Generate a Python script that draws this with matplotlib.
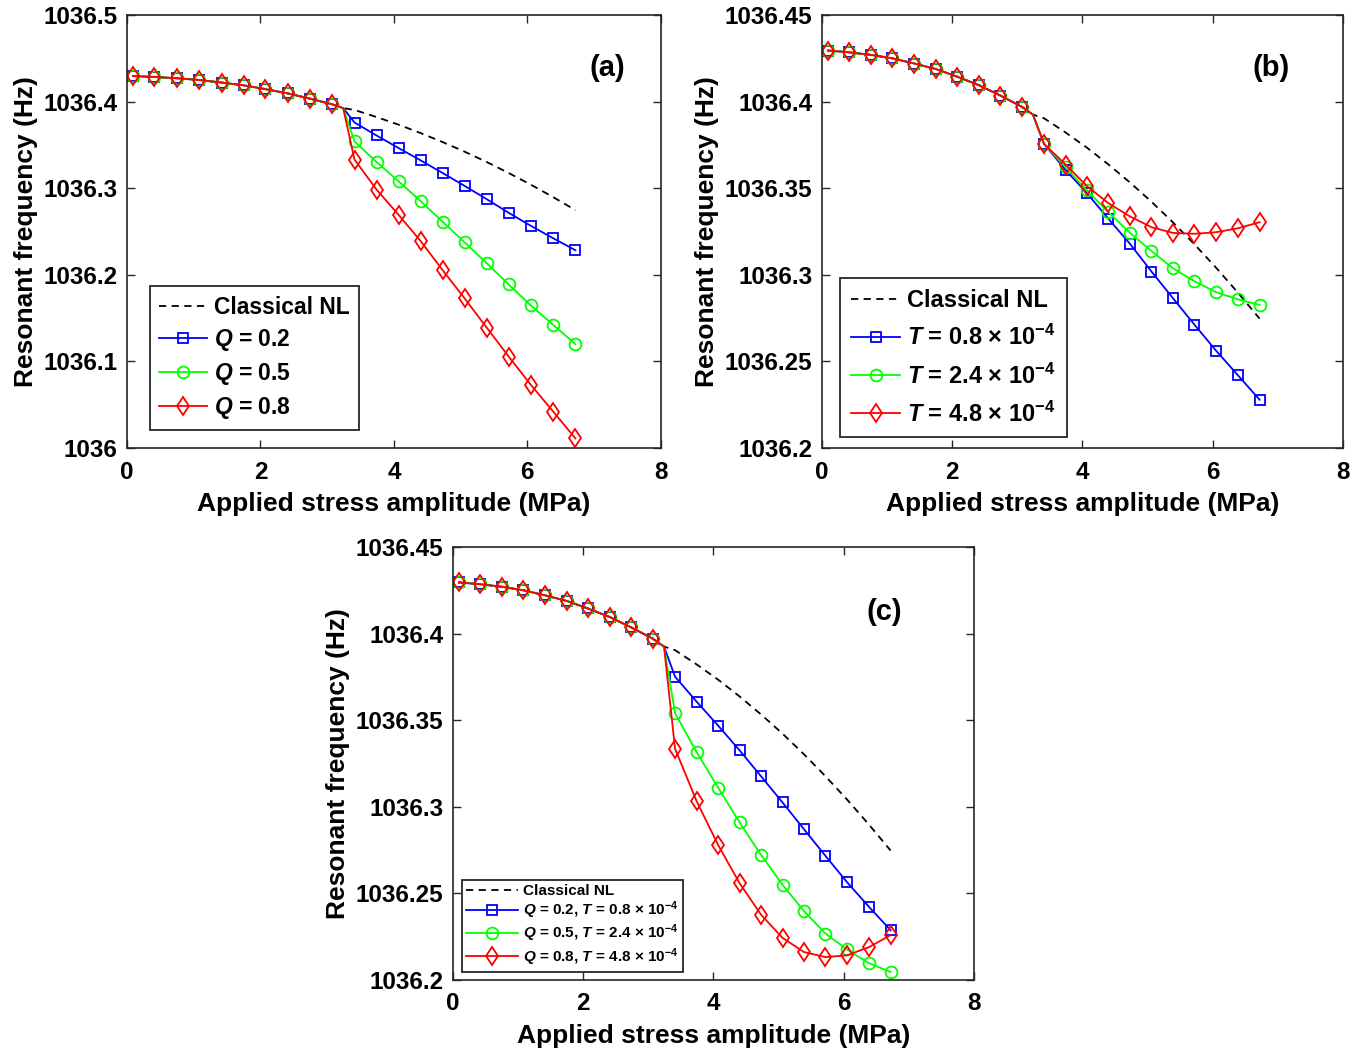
import matplotlib
matplotlib.use('Agg')
import matplotlib.pyplot as plt

plt.rcParams['font.family'] = ['Liberation Sans', 'DejaVu Sans']
plt.rcParams['font.weight'] = 'bold'
plt.rcParams['mathtext.fontset'] = 'custom'
plt.rcParams['mathtext.rm'] = 'Liberation Sans:bold'
plt.rcParams['mathtext.it'] = 'Liberation Sans:bold:italic'
plt.rcParams['mathtext.bf'] = 'Liberation Sans:bold'

# shared part of the curves (before the kink)
x_pre = [0.09, 0.41, 0.75, 1.08, 1.42, 1.75, 2.07, 2.41, 2.74, 3.07]
y_pre = [1036.4295, 1036.4285, 1036.427, 1036.425, 1036.422, 1036.4188,
         1036.4145, 1036.4095, 1036.4035, 1036.397]
x_kink = 3.24
y_kink = 1036.3925
x_post = [3.41, 3.74, 4.07, 4.4, 4.73, 5.06, 5.39, 5.72, 6.05, 6.39, 6.72]

classical_post = [1036.3904, 1036.3822, 1036.3734, 1036.3637, 1036.3533, 1036.3422,
                  1036.3303, 1036.3176, 1036.3042, 1036.2896, 1036.2747]

# (a) varying Q
a_q02 = [1036.3759, 1036.3609, 1036.3464, 1036.3322, 1036.3176, 1036.3027,
         1036.2874, 1036.2716, 1036.2567, 1036.2421, 1036.2284]
a_q05 = [1036.354, 1036.3303, 1036.308, 1036.2851, 1036.2613, 1036.2375,
         1036.2134, 1036.1889, 1036.1648, 1036.1421, 1036.1199]
a_q08 = [1036.333, 1036.2985, 1036.2693, 1036.2391, 1036.2054, 1036.1728,
         1036.1391, 1036.1057, 1036.0732, 1036.0418, 1036.0111]

# (b) varying T
b_t08 = [1036.3756, 1036.3606, 1036.3471, 1036.3323, 1036.3179, 1036.3019,
         1036.2865, 1036.2712, 1036.2563, 1036.2419, 1036.2279]
b_t24 = [1036.3756, 1036.3621, 1036.3487, 1036.3362, 1036.3242, 1036.3137,
         1036.3038, 1036.2963, 1036.29, 1036.2858, 1036.2827]
b_t48 = [1036.3756, 1036.3637, 1036.3512, 1036.3413, 1036.3337, 1036.3275,
         1036.3242, 1036.3237, 1036.3246, 1036.3269, 1036.3304]

# (c) both
c_1 = [1036.3751, 1036.3607, 1036.3469, 1036.3326, 1036.3176, 1036.3025,
       1036.287, 1036.2716, 1036.2565, 1036.2421, 1036.2287]
c_2 = [1036.354, 1036.3316, 1036.3111, 1036.291, 1036.2722, 1036.255,
       1036.2397, 1036.2268, 1036.2176, 1036.2096, 1036.2046]
c_3 = [1036.3335, 1036.3033, 1036.278, 1036.2559, 1036.2377, 1036.2243,
       1036.2161, 1036.2132, 1036.2142, 1036.219, 1036.2259]

labels_a = ['Classical NL', '$Q$ = 0.2', '$Q$ = 0.5', '$Q$ = 0.8']
labels_b = ['Classical NL', '$T$ = 0.8 \u00d7 $10^{-4}$', '$T$ = 2.4 \u00d7 $10^{-4}$',
            '$T$ = 4.8 \u00d7 $10^{-4}$']
labels_c = ['Classical NL', '$Q$ = 0.2, $T$ = 0.8 \u00d7 $10^{-4}$',
            '$Q$ = 0.5, $T$ = 2.4 \u00d7 $10^{-4}$',
            '$Q$ = 0.8, $T$ = 4.8 \u00d7 $10^{-4}$']

xticks = [0, 2, 4, 6, 8]
yticks_a = [1036, 1036.1, 1036.2, 1036.3, 1036.4, 1036.5]
ytl_a = ['1036', '1036.1', '1036.2', '1036.3', '1036.4', '1036.5']
yticks_bc = [1036.2, 1036.25, 1036.3, 1036.35, 1036.4, 1036.45]
ytl_bc = ['1036.2', '1036.25', '1036.3', '1036.35', '1036.4', '1036.45']

xs = x_pre + [x_kink] + x_post
mk = list(range(len(x_pre))) + list(range(len(x_pre) + 1, len(xs)))


def panel(ax, series, labels, tag, tagpos, yticks, ytl, leg_fs, leg_hl,
          leg_anchor, leg_ls, leg_bp):
    h = []
    l0, = ax.plot(xs, y_pre + [y_kink] + classical_post, color='k', ls='--',
                  lw=1.3, dashes=(4, 3))
    h.append(l0)
    styles = [('#0000ff', 's', 7.5), ('#00ff00', 'o', 8.5), ('#ff0000', 'd', 9.5)]
    for s, (c, m, ms) in zip(series, styles):
        ln, = ax.plot(xs, y_pre + [y_kink] + s, color=c, marker=m, ms=ms,
                      mfc='none', mec=c, mew=1.3, lw=1.3, markevery=mk)
        h.append(ln)
    ax.set_xlim(0, 8)
    ax.set_ylim(yticks[0], yticks[-1])
    ax.set_xticks(xticks)
    ax.set_yticks(yticks)
    ax.set_yticklabels(ytl)
    ax.tick_params(direction='in', top=True, right=True, length=6, width=1,
                   labelsize=17.5, colors='#262626', labelcolor='k')
    ax.tick_params(axis='x', pad=9)
    ax.tick_params(axis='y', pad=7)
    for sp in ax.spines.values():
        sp.set_linewidth(1.2)
        sp.set_color('#262626')
    ax.set_xlabel('Applied stress amplitude (MPa)', fontsize=19, fontweight='bold',
                  labelpad=6)
    ax.set_ylabel('Resonant frequency (Hz)', fontsize=19, fontweight='bold',
                  labelpad=4)
    ax.text(tagpos[0], tagpos[1], tag, transform=ax.transAxes, fontsize=21,
            fontweight='bold', ha='center', va='center')
    leg = ax.legend(h, labels, loc='lower left', bbox_to_anchor=leg_anchor,
                    fontsize=leg_fs, handlelength=leg_hl, handletextpad=0.3,
                    labelspacing=leg_ls, borderpad=leg_bp, borderaxespad=0,
                    fancybox=False, framealpha=1, edgecolor='#262626')
    leg.get_frame().set_linewidth(1.3)


fig = plt.figure(figsize=(13.62, 10.51), dpi=100)
ax_a = fig.add_axes([0.0932, 0.5737, 0.392, 0.412])
ax_b = fig.add_axes([0.6035, 0.5737, 0.3825, 0.412])
ax_c = fig.add_axes([0.3326, 0.0676, 0.3825, 0.412])

panel(ax_a, [a_q02, a_q05, a_q08], labels_a, '(a)', (0.9, 0.878), yticks_a, ytl_a,
      16.5, 2.1, (0.043, 0.042), 0.35, 0.4)
panel(ax_b, [b_t08, b_t24, b_t48], labels_b, '(b)', (0.862, 0.878), yticks_bc, ytl_bc,
      17, 2.1, (0.035, 0.025), 0.55, 0.45)
panel(ax_c, [c_1, c_2, c_3], labels_c, '(c)', (0.827, 0.85), yticks_bc, ytl_bc,
      11, 3.4, (0.017, 0.018), 0.1, 0.3)

fig.savefig('out.png', dpi=100, facecolor='white')
